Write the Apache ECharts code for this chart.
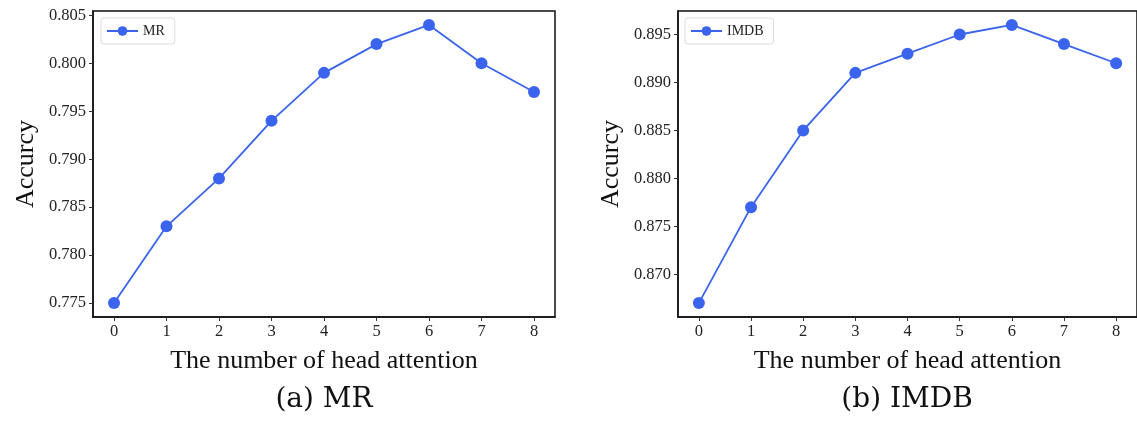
<!DOCTYPE html>
<html>
<head>
<meta charset="utf-8">
<script src="https://cdn.jsdelivr.net/npm/echarts@6/dist/echarts.min.js"></script>
<style>
  html, body { margin: 0; padding: 0; background: #fff; }
  #main { width: 1137px; height: 423px; }
</style>
</head>
<body>
<div id="main"></div>
<script>
var heads = [0, 1, 2, 3, 4, 5, 6, 7, 8];
var mrAcc = [0.775, 0.783, 0.788, 0.794, 0.799, 0.802, 0.804, 0.800, 0.797];
var imdbAcc = [0.867, 0.877, 0.885, 0.891, 0.893, 0.895, 0.896, 0.894, 0.892];
var mrTicks = [0.775, 0.780, 0.785, 0.790, 0.795, 0.800, 0.805];
var imdbTicks = [0.870, 0.875, 0.880, 0.885, 0.890, 0.895];

var serif = '"Liberation Serif", "DejaVu Serif", serif';
var blue = '#3b64ee';

var dom = document.getElementById('main');
var myChart = echarts.init(dom);

function pairs(ys) {
    return heads.map(function (x, i) { return [x, ys[i]]; });
}

function xAxisFor(idx) {
    return {
        type: 'value',
        gridIndex: idx,
        min: -0.4,
        max: 8.4,
        name: 'The number of head attention',
        nameLocation: 'middle',
        nameGap: 31,
        nameTextStyle: { fontFamily: serif, fontSize: 26, color: '#111' },
        splitLine: { show: false },
        axisLine: { show: true, onZero: false, lineStyle: { color: '#111', width: 1.5 } },
        axisTick: { show: true, length: 4, customValues: heads, lineStyle: { color: '#333' } },
        axisLabel: { customValues: heads, fontFamily: serif, fontSize: 16.5, color: '#222', margin: 6 }
    };
}

function yAxisFor(idx, lo, hi, ticks) {
    return {
        type: 'value',
        gridIndex: idx,
        min: lo,
        max: hi,
        name: 'Accurcy',
        nameLocation: 'middle',
        nameGap: 54,
        nameTextStyle: { fontFamily: serif, fontSize: 26, color: '#111' },
        splitLine: { show: false },
        axisLine: { show: true, onZero: false, lineStyle: { color: '#111', width: 1.5 } },
        axisTick: { show: true, length: 4, customValues: ticks, lineStyle: { color: '#333' } },
        axisLabel: {
            customValues: ticks,
            fontFamily: serif, fontSize: 16.5, color: '#222', margin: 7,
            formatter: function (v) { return v.toFixed(3); }
        }
    };
}

function legendFor(name, left) {
    return {
        data: [name],
        left: left,
        top: 18,
        itemWidth: 31,
        itemHeight: 12,
        itemGap: 6,
        padding: [6, 10, 6, 5],
        borderColor: '#ddd',
        borderWidth: 1,
        borderRadius: 3,
        textStyle: { fontFamily: serif, fontSize: 14, color: '#222' }
    };
}

function lineSeries(name, idx, ys) {
    return {
        name: name,
        type: 'line',
        xAxisIndex: idx,
        yAxisIndex: idx,
        data: pairs(ys),
        symbol: 'circle',
        symbolSize: 12,
        lineStyle: { color: blue, width: 1.8 },
        itemStyle: { color: blue },
        animation: false
    };
}

option = {
    backgroundColor: '#fff',
    animation: false,
    grid: [
        { left: 93, top: 11, width: 462, height: 306, show: true, borderColor: '#111', borderWidth: 1.5 },
        { left: 678, top: 11, width: 462, height: 306, show: true, borderColor: '#111', borderWidth: 1.5 }
    ],
    xAxis: [xAxisFor(0), xAxisFor(1)],
    yAxis: [
        yAxisFor(0, 0.77355, 0.80545, mrTicks),
        yAxisFor(1, 0.86555, 0.89745, imdbTicks)
    ],
    legend: [legendFor('MR', 101), legendFor('IMDB', 685)],
    series: [
        lineSeries('MR', 0, mrAcc),
        lineSeries('IMDB', 1, imdbAcc)
    ],
    graphic: [
        { type: 'text', x: 324, y: 400, style: { text: '(a) MR', font: '28px "DejaVu Serif", serif', fill: '#111', textAlign: 'center', textVerticalAlign: 'middle' } },
        { type: 'text', x: 907, y: 400, style: { text: '(b) IMDB', font: '28px "DejaVu Serif", serif', fill: '#111', textAlign: 'center', textVerticalAlign: 'middle' } }
    ]
};

if (option && typeof option === "object") {
    myChart.setOption(option, true);
}
</script>
</body>
</html>
